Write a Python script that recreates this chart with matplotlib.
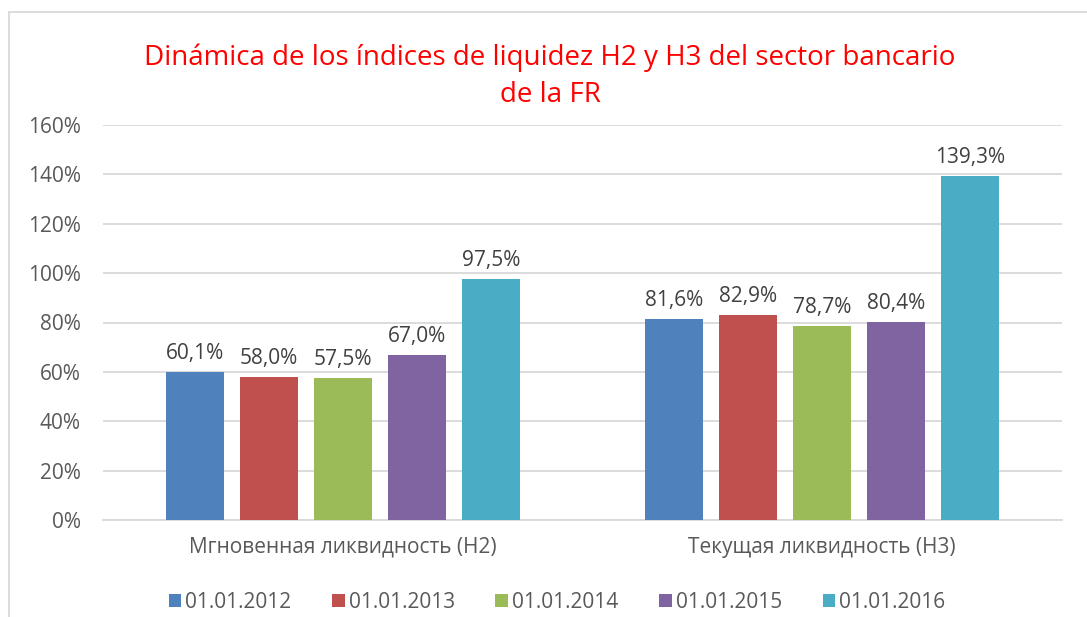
import matplotlib.pyplot as plt
import numpy as np
from matplotlib.patches import Rectangle

plt.rcParams['font.family'] = ['Open Sans', 'DejaVu Sans']

categories = ['Мгновенная ликвидность (Н2)', 'Текущая ликвидность (Н3)']
series = ['01.01.2012', '01.01.2013', '01.01.2014', '01.01.2015', '01.01.2016']
values = [
    [60.1, 81.6],
    [58.0, 82.9],
    [57.5, 78.7],
    [67.0, 80.4],
    [97.5, 139.3],
]
colors = ['#4F81BD', '#C0504D', '#9BBB59', '#8064A2', '#4BACC6']
title = 'Dinámica de los índices de liquidez H2 y H3 del sector bancario\nde la FR'

fig = plt.figure(figsize=(10.87, 6.17), dpi=100)
ax = fig.add_axes([103 / 1087, 1 - 520 / 617, (1062 - 103) / 1087, (520 - 125) / 617])

x = np.arange(len(categories))
width = 0.121
step = 0.1543
for i, (name, vals) in enumerate(zip(series, values)):
    pos = x + (i - 2) * step
    bars = ax.bar(pos, vals, width, color=colors[i], label=name, zorder=3)
    for b, v in zip(bars, vals):
        ax.text(b.get_x() + b.get_width() / 2, v + 3.2, f'{v:.1f}%'.replace('.', ','),
                ha='center', va='bottom', fontsize=15, color='#404040')

ax.set_xlim(-0.5, 1.5)
ax.set_ylim(0, 160)
ax.set_yticks(range(0, 161, 20))
ax.set_yticklabels([f'{t}%' for t in range(0, 161, 20)])
ax.set_xticks(x)
ax.set_xticklabels(categories)
ax.tick_params(axis='both', length=0, labelsize=15, labelcolor='#595959')
ax.tick_params(axis='x', pad=12)
ax.tick_params(axis='y', pad=16)
ax.grid(axis='y', color='#D9D9D9', linewidth=1.3, zorder=0)
for s in ['top', 'right', 'left']:
    ax.spines[s].set_visible(False)
ax.spines['bottom'].set_color('#D9D9D9')
ax.spines['bottom'].set_linewidth(1.3)

fig.text(550 / 1087, 1 - 76 / 617, title, ha='center', va='center', color='#FF0000',
         fontsize=20, linespacing=1.45)

fig.legend(loc='center', bbox_to_anchor=(557 / 1087, 1 - 602 / 617), ncol=5, frameon=False,
           fontsize=15, labelcolor='#595959', handlelength=0.6, handleheight=0.6,
           handletextpad=0.2, columnspacing=1.95)

fig.patches.append(Rectangle((9 / 1087, -0.1), 1.2, 1.1 - 12 / 617, transform=fig.transFigure,
                             fill=False, edgecolor='#D9D9D9', linewidth=1.3))

fig.savefig('out.png', dpi=100)
